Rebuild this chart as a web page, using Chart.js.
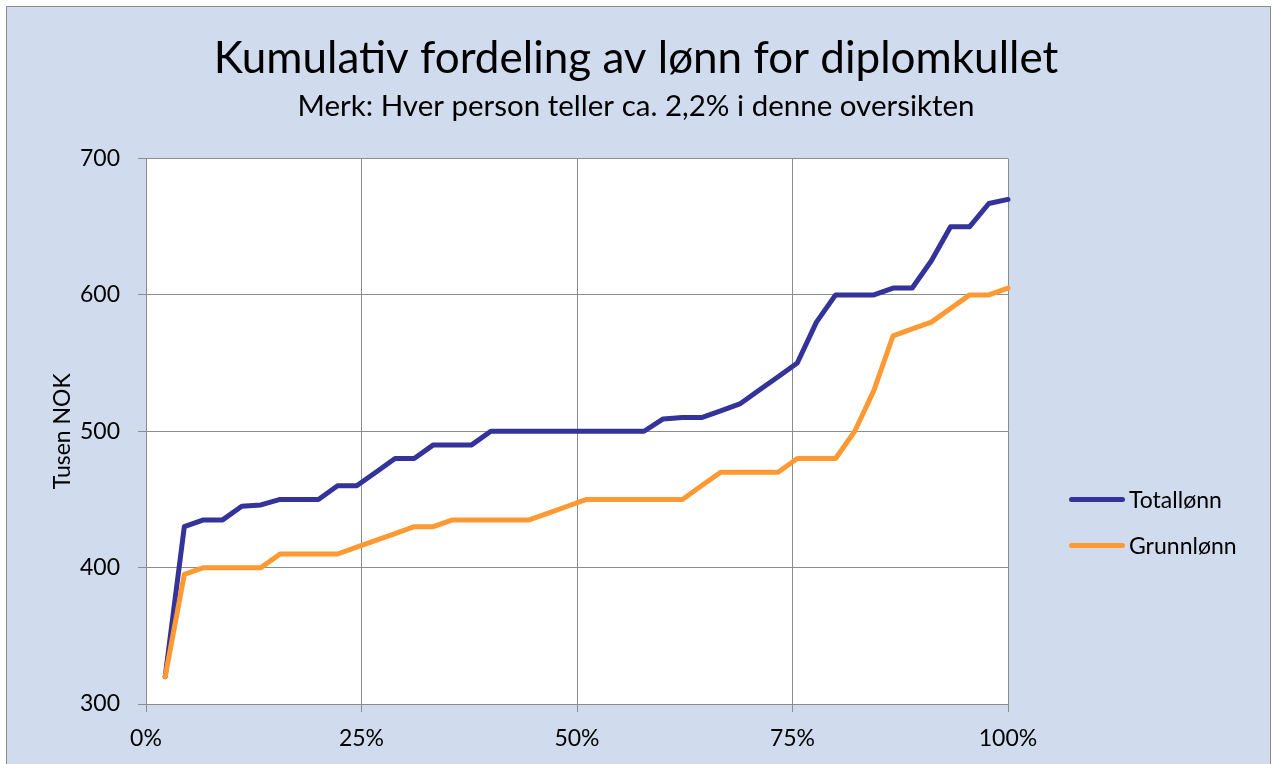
<!DOCTYPE html>
<html lang="no">
<head>
<meta charset="utf-8">
<title>Kumulativ fordeling av lønn for diplomkullet</title>
<script src="https://cdn.jsdelivr.net/npm/chart.js@4.4.1/dist/chart.umd.min.js"></script>
<style>
    html, body { margin: 0; padding: 0; background: #fff; overflow: hidden; }
    #frame {
        position: absolute; left: 6px; top: 6px; width: 1263px; height: 800px;
        background: #D0DCEE; border: 1px solid #8c8c8c;
    }
    #chart { position: absolute; left: 0; top: 0; }
    #custom-legend { position: absolute; left: 1069px; top: 482px; font-family: Lato, sans-serif; font-size: 23px; color: #000; }
</style>
</head>
<body>
<div id="frame"></div>
<canvas id="chart" width="1272" height="764"></canvas>
<div id="custom-legend"></div>
<script>
// Each person counts about 2.2% (45 persons), sorted by salary
const persons = 45;
const totalLonn = [320, 430, 435, 435, 445, 446, 450, 450, 450, 460, 460, 470, 480, 480, 490,
    490, 490, 500, 500, 500, 500, 500, 500, 500, 500, 500, 509, 510, 510, 515,
    520, 530, 540, 550, 580, 600, 600, 600, 605, 605, 625, 650, 650, 667, 670];
const grunnLonn = [320, 395, 400, 400, 400, 400, 410, 410, 410, 410, 415, 420, 425, 430, 430,
    435, 435, 435, 435, 435, 440, 445, 450, 450, 450, 450, 450, 450, 460, 470,
    470, 470, 470, 480, 480, 480, 500, 530, 570, 575, 580, 590, 600, 600, 605];
const xTicks = [0, 0.25, 0.5, 0.75, 1];
const yTicks = [300, 400, 500, 600, 700];

const seriesNames = ['Totallønn', 'Grunnlønn'];
const seriesColors = ['#333399', '#FF9933'];

const toPoints = arr => arr.map((v, i) => ({ x: (i + 1) / persons, y: v }));

const gridColor = '#8c8c8c';
const font = { family: 'Lato, sans-serif', size: 23 };

// white plot area like Excel
const plotBackground = {
    id: 'plotBackground',
    beforeDraw(chart) {
        const { ctx, chartArea } = chart;
        ctx.save();
        ctx.fillStyle = '#ffffff';
        ctx.fillRect(chartArea.left, chartArea.top, chartArea.right - chartArea.left, chartArea.bottom - chartArea.top);
        ctx.restore();
    }
};

const ctx = document.getElementById('chart').getContext('2d');
const chart = new Chart(ctx, {
    type: 'line',
    data: {
        datasets: [
            {
                label: seriesNames[0],
                data: toPoints(totalLonn),
                borderColor: seriesColors[0],
                backgroundColor: seriesColors[0],
                borderWidth: 5,
                pointRadius: 0,
                borderJoinStyle: 'round',
                borderCapStyle: 'round',
                clip: false,
                order: 2
            },
            {
                label: seriesNames[1],
                data: toPoints(grunnLonn),
                borderColor: seriesColors[1],
                backgroundColor: seriesColors[1],
                borderWidth: 5,
                pointRadius: 0,
                borderJoinStyle: 'round',
                borderCapStyle: 'round',
                clip: false,
                order: 1
            }
        ]
    },
    options: {
        responsive: false,
        animation: false,
        layout: { padding: 0 },
        scales: {
            x: {
                type: 'linear',
                min: 0,
                max: 1,
                afterBuildTicks: axis => { axis.ticks = xTicks.map(v => ({ value: v })); },
                afterFit: axis => { axis.height = 60; },
                ticks: {
                    color: '#000',
                    font: font,
                    padding: 13,
                    maxRotation: 0,
                    callback: v => Math.round(v * 100) + '%'
                },
                grid: { color: gridColor, tickLength: 8, tickColor: gridColor },
                border: { color: gridColor }
            },
            y: {
                min: 300,
                max: 700,
                afterBuildTicks: axis => { axis.ticks = yTicks.map(v => ({ value: v })); },
                afterFit: axis => { axis.width = 146; },
                title: {
                    display: true,
                    text: 'Tusen NOK',
                    color: '#000',
                    font: font,
                    padding: { top: 49, bottom: 0 }
                },
                ticks: { color: '#000', font: font, padding: 18 },
                grid: { color: gridColor, tickLength: 8, tickColor: gridColor },
                border: { color: gridColor }
            },
            // empty axis on the right keeps room for the legend
            legendSpace: {
                type: 'linear',
                position: 'right',
                display: true,
                ticks: { display: false },
                grid: { display: false, drawTicks: false },
                border: { display: false },
                afterFit: axis => { axis.width = 1272 - 1008; }
            }
        },
        plugins: {
            legend: { display: false },
            tooltip: { enabled: false },
            title: {
                display: true,
                text: 'Kumulativ fordeling av lønn for diplomkullet',
                color: '#000',
                font: { family: 'Lato, sans-serif', size: 44, weight: 'normal', lineHeight: 1 },
                padding: { top: 37, bottom: 0 }
            },
            subtitle: {
                display: true,
                text: 'Merk: Hver person teller ca. 2,2% i denne oversikten',
                color: '#000',
                font: { family: 'Lato, sans-serif', size: 29.5, lineHeight: 1 },
                padding: { top: 11, bottom: 37 }
            }
        }
    },
    plugins: [plotBackground]
});

// Function to build the legend next to the chart
function updateCustomLegend() {
    const legendContainer = document.getElementById('custom-legend');
    legendContainer.innerHTML = '';

    seriesNames.forEach((name, i) => {
        const legendItem = document.createElement('div');
        legendItem.style.display = 'flex';
        legendItem.style.alignItems = 'center';
        legendItem.style.height = '34px';
        legendItem.style.marginBottom = '12px';

        const colorLine = document.createElement('span');
        colorLine.style.width = '56px';
        colorLine.style.height = '5px';
        colorLine.style.borderRadius = '3px';
        colorLine.style.backgroundColor = seriesColors[i];
        colorLine.style.marginRight = '4px';

        const label = document.createElement('span');
        label.textContent = name;

        legendItem.appendChild(colorLine);
        legendItem.appendChild(label);
        legendContainer.appendChild(legendItem);
    });
}
updateCustomLegend();
</script>
</body>
</html>
